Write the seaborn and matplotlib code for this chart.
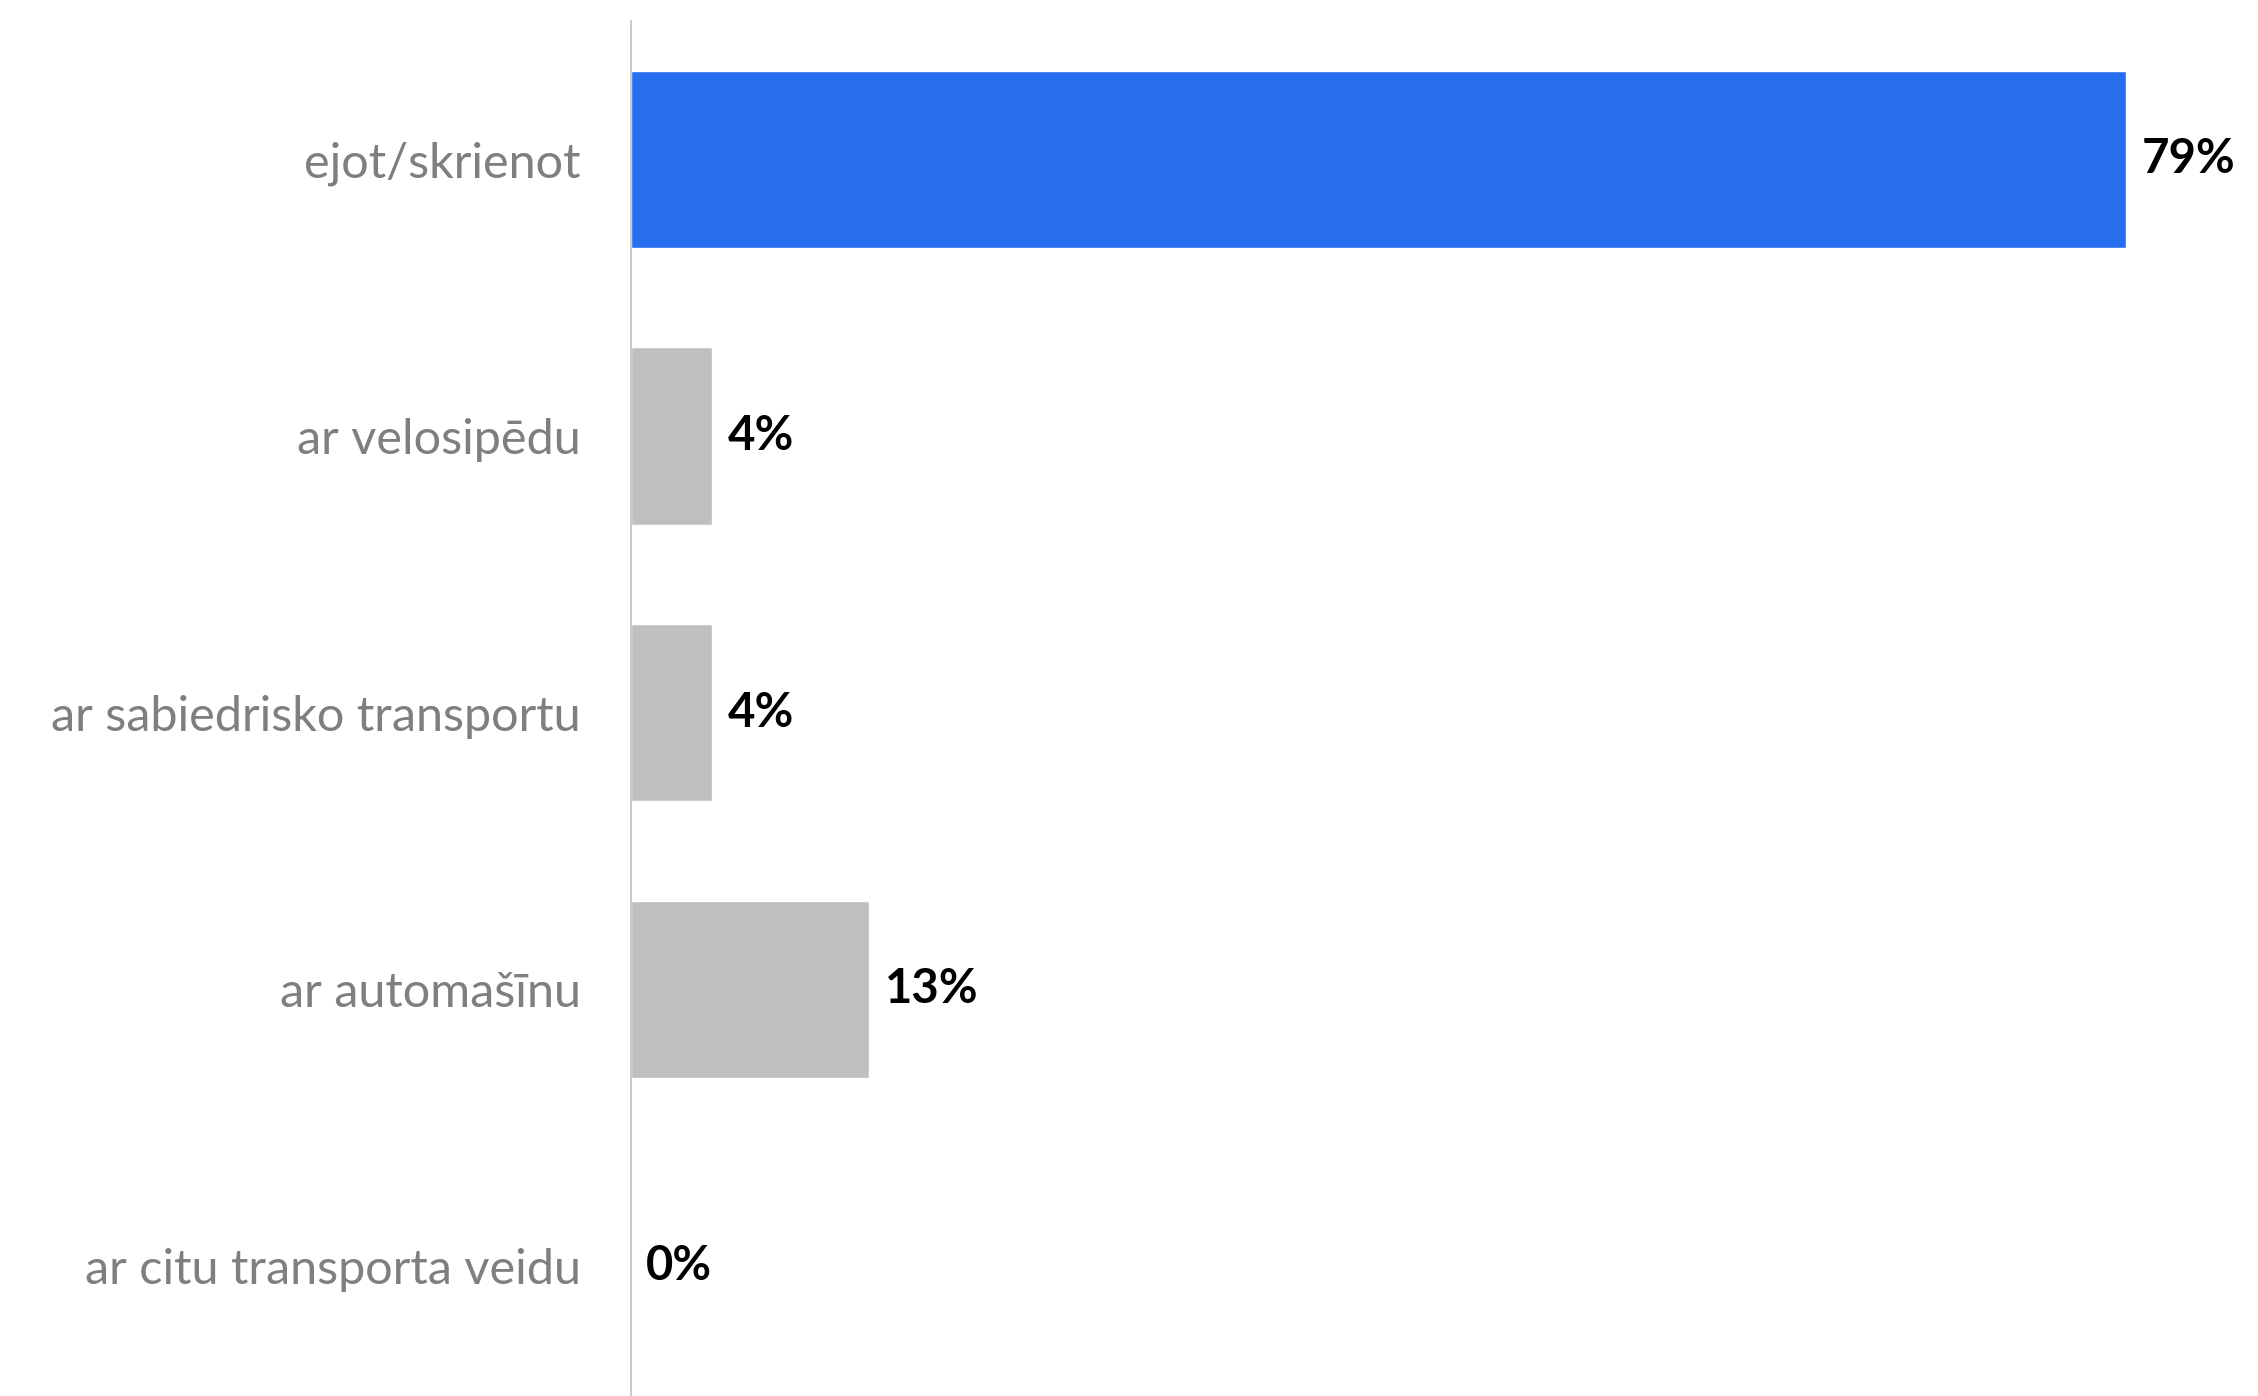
import matplotlib
matplotlib.use('Agg')
import matplotlib.pyplot as plt
import pandas as pd
import seaborn as sns

# data
categories = ['ejot/skrienot', 'ar velosipēdu', 'ar sabiedrisko transportu',
              'ar automašīnu', 'ar citu transporta veidu']
values = [79.0, 4.3, 4.3, 12.6, 0.0]
value_labels = ['79%', '4%', '4%', '13%', '0%']
bar_colors = ['#276FEE', '#BFBFBF', '#BFBFBF', '#BFBFBF', '#BFBFBF']

df = pd.DataFrame({'category': categories, 'value': values})

sns.set_style('white')
plt.rcParams['font.family'] = ['Lato', 'DejaVu Sans']

W, H = 2258, 1396
fig = plt.figure(figsize=(W / 100, H / 100), dpi=100)
ax = fig.add_axes([631 / W, 0, (2200 - 631) / W, (H - 21) / H])

sns.barplot(data=df, x='value', y='category', hue='category',
            palette=bar_colors, legend=False, width=0.64,
            saturation=1, ax=ax)

for cont, lab in zip(ax.containers, value_labels):
    ax.bar_label(cont, labels=[lab], padding=11, fontsize=34,
                 fontweight='bold', color='black')

ax.set_xlim(0, 82.9)
ax.set_ylim(4.47, -0.5)
ax.set_xlabel('')
ax.set_ylabel('')
ax.set_xticks([])
ax.tick_params(axis='y', length=0, pad=36, labelsize=35, labelcolor='#7F7F7F')

# only the left spine stays
for s in ['top', 'right', 'bottom']:
    ax.spines[s].set_visible(False)
ax.spines['left'].set_color('#BFBFBF')
ax.spines['left'].set_linewidth(1.2)

fig.savefig('out.png', dpi=100)
plt.close()
